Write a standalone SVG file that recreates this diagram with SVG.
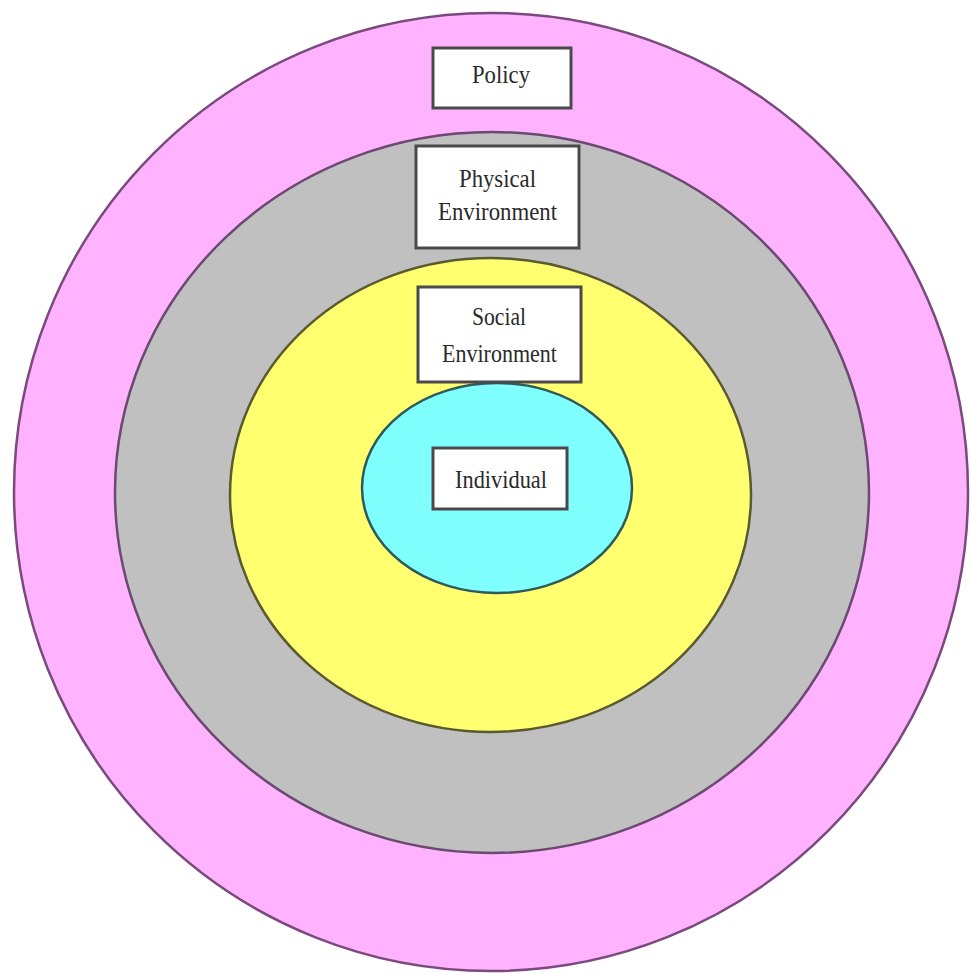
<svg xmlns="http://www.w3.org/2000/svg" width="971" height="974" viewBox="0 0 971 974">
<style>
.ring{stroke-width:2.5}
.box{fill:#ffffff;stroke:#4a4a4a;stroke-width:3}
.lbl{font-family:"Liberation Serif","Times New Roman",serif;font-size:26px;fill:#2a2a2a;text-anchor:middle}
</style>
<rect width="971" height="974" fill="#ffffff"/>
<g id="policy-ring"><ellipse class="ring" cx="491" cy="492" rx="477" ry="479" fill="#ffb3ff" stroke="#7a4a7e"/></g>
<g id="physical-ring"><ellipse class="ring" cx="492" cy="492.5" rx="377" ry="360.5" fill="#c0c0c0" stroke="#6a4a70"/></g>
<g id="social-ring"><ellipse class="ring" cx="490.5" cy="495" rx="260.5" ry="237" fill="#ffff70" stroke="#5a5a30"/></g>
<g id="individual-ring"><ellipse class="ring" cx="497" cy="488" rx="135" ry="105" fill="#80ffff" stroke="#2f5a5a"/></g>
<g id="connectors"></g>
<g id="policy"><rect class="box" x="433" y="48" width="138" height="60"/><text class="lbl" x="501" y="83" textLength="58" lengthAdjust="spacingAndGlyphs">Policy</text></g>
<g id="physical"><rect class="box" x="416" y="146" width="163" height="102"/><text class="lbl" x="497.5" y="187" textLength="77" lengthAdjust="spacingAndGlyphs">Physical</text><text class="lbl" x="497.5" y="220" textLength="119" lengthAdjust="spacingAndGlyphs">Environment</text></g>
<g id="social"><rect class="box" x="418" y="287" width="163" height="95"/><text class="lbl" x="499" y="325" textLength="54" lengthAdjust="spacingAndGlyphs">Social</text><text class="lbl" x="499.5" y="362" textLength="115" lengthAdjust="spacingAndGlyphs">Environment</text></g>
<g id="individual"><rect class="box" x="433" y="448" width="134" height="61"/><text class="lbl" x="501" y="488" textLength="92" lengthAdjust="spacingAndGlyphs">Individual</text></g>
</svg>
